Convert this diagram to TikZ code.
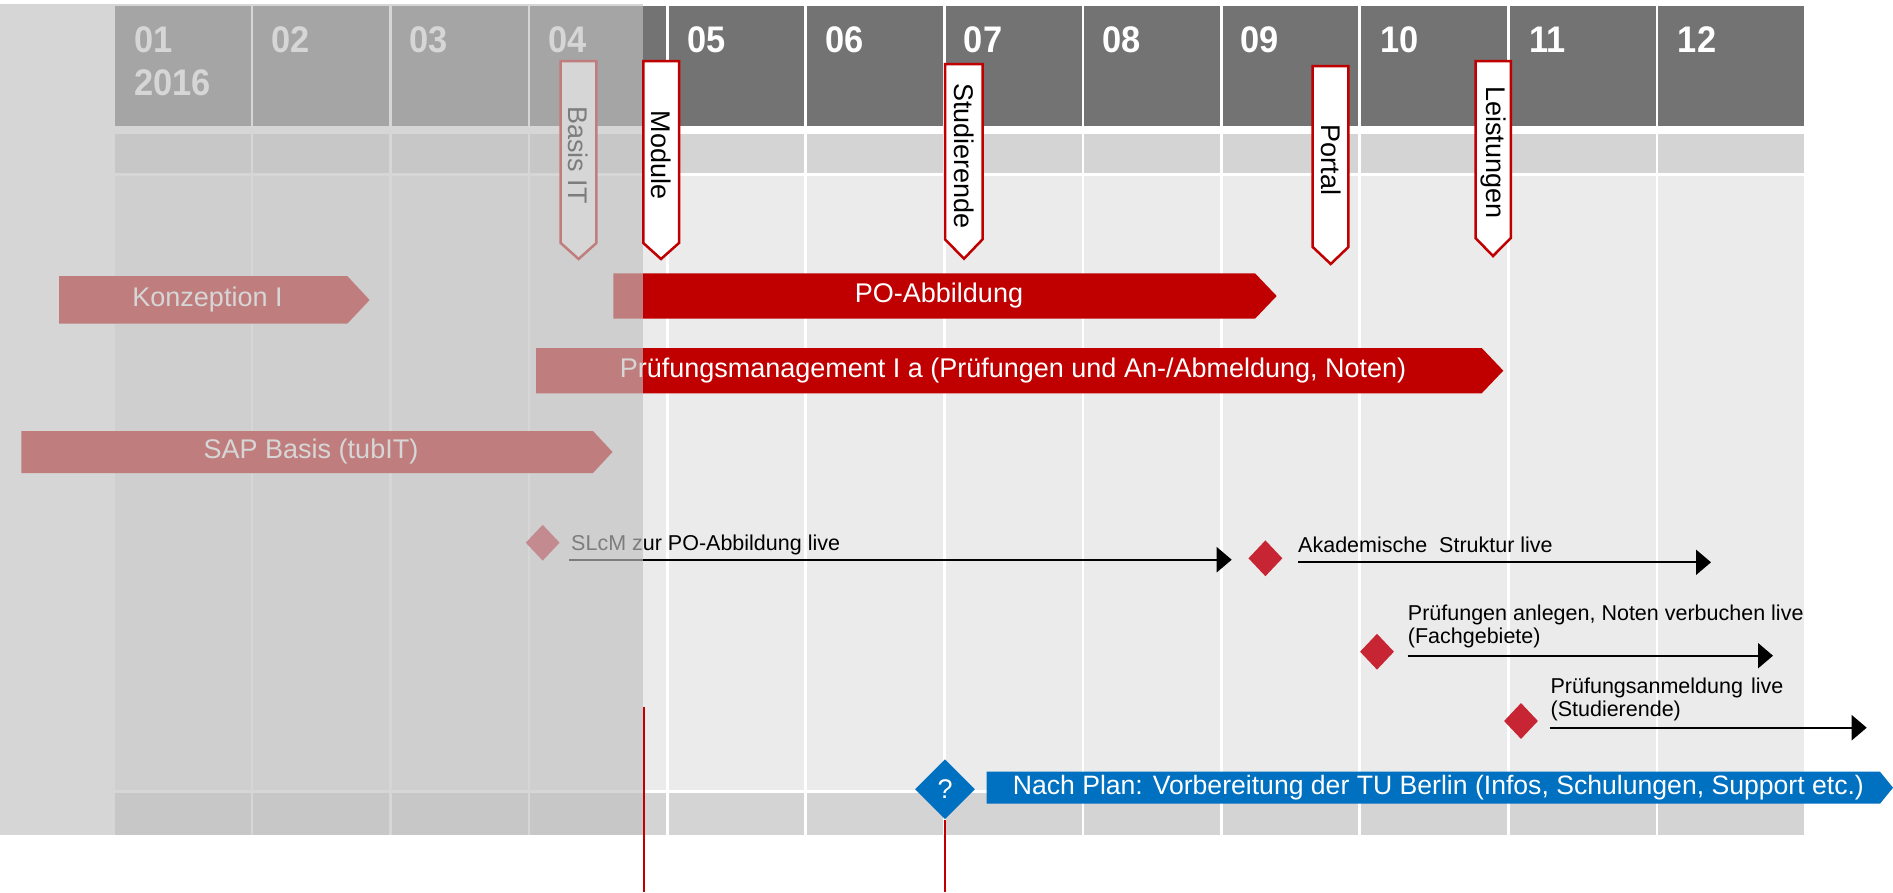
\documentclass[tikz,border=0pt]{standalone}
\usepackage{fontspec}
\setmainfont{Liberation Sans}
\usetikzlibrary{arrows.meta,shapes.geometric}
\definecolor{hdr}{HTML}{737373}
\definecolor{rowmid}{HTML}{D4D4D4}
\definecolor{bodygray}{HTML}{EBEBEB}
\definecolor{tured}{HTML}{C00000}
\definecolor{msred}{RGB}{200,37,52}
\definecolor{tublue}{HTML}{0070C0}
\definecolor{veil}{HTML}{C1C1C1}
\begin{document}
\begin{tikzpicture}[x=1pt,y=-1pt,
  monthlbl/.style={anchor=base west,inner sep=0,text=white,font=\fontsize{37}{40}\selectfont\bfseries,xscale=0.93},
  flagshape/.style={fill=white,draw=tured,line width=2.5,line join=miter},
  flagtext/.style={rotate=-90,inner sep=0,text=black,font=\fontsize{27}{30}\selectfont},
  barshape/.style={fill=tured},
  bartext/.style={inner sep=0,text=white,font=\fontsize{27}{30}\selectfont},
  msdiamond/.style={diamond,fill=msred,inner sep=0,minimum width=34,minimum height=36},
  mstext/.style={anchor=base west,inner sep=0,text=black,font=\fontsize{21.5}{23.3}\selectfont},
  msarrow/.style={draw=black,line width=2.2,-{Triangle[length=15pt,width=25pt]}},
  redline/.style={draw=tured,line width=2}]
\useasboundingbox (0,0) rectangle (1893,892);
\fill[white] (0,0) rectangle (1893,892);
% grid rows
\fill[hdr] (115,6) rectangle (1804.4,126);
\fill[rowmid] (115,134) rectangle (1804.4,173);
\fill[bodygray] (115,176) rectangle (1804.4,790);
\fill[rowmid] (115,793) rectangle (1804.4,835);
\foreach \xs in {252.2,390.6,529,667.3,805.4,944.6,1083,1221.4,1359.4,1508.3,1657.2}
  \draw[white,line width=2.5] (\xs,6) -- (\xs,835);
% month labels
\node[monthlbl] (m01) at (134,52) {01};
\node[monthlbl] (y2016) at (134,95) {2016};
\node[monthlbl] (m02) at (271.5,52) {02};
\node[monthlbl] (m03) at (409.5,52) {03};
\node[monthlbl] (m04) at (548,52) {04};
\node[monthlbl] (m05) at (687,52) {05};
\node[monthlbl] (m06) at (825.4,52) {06};
\node[monthlbl] (m07) at (963.8,52) {07};
\node[monthlbl] (m08) at (1102,52) {08};
\node[monthlbl] (m09) at (1240.6,52) {09};
\node[monthlbl] (m10) at (1380.4,52) {10};
\node[monthlbl] (m11) at (1528.8,52) {11};
\node[monthlbl] (m12) at (1677.7,52) {12};
% flags (under overlay)
\draw[flagshape] (560.7,61) -- (596.4,61) -- (596.4,243) -- (578.6,259) -- (560.7,243) -- cycle;
\node[flagtext] (fBasis) at (578.6,155) {Basis IT};
% bars
\fill[barshape] (59,276) -- (347.3,276) -- (369.6,300) -- (347.3,323.7) -- (59,323.7) -- cycle;
\node[bartext] (bKonz) at (207.5,300) {Konzeption I};
\fill[barshape] (613.4,273.3) -- (1255,273.3) -- (1276.7,296) -- (1255,318.7) -- (613.4,318.7) -- cycle;
\node[bartext] (bPO) at (939,296) {PO-Abbildung};
\fill[barshape] (536,348) -- (1481.7,348) -- (1503.3,370.7) -- (1481.7,393.3) -- (536,393.3) -- cycle;
\node[bartext] (bPM) at (1013,370.7) {Prüfungsmanagement I a (Prüfungen und An-/Abmeldung, Noten)};
\fill[barshape] (21.4,431) -- (593,431) -- (612.5,452) -- (593,473) -- (21.4,473) -- cycle;
\node[bartext] (bSAP) at (311,452) {SAP Basis (tubIT)};
% milestones
\node[msdiamond] (dSLcM) at (542.7,542.7) {};
\node[mstext] (tSLcM) at (571,550.7) {SLcM zur PO-Abbildung live};
\coordinate (aSLcMs) at (569,559.7);
\coordinate (aSLcMe) at (1231.7,559.7);
\draw[msarrow] (aSLcMs) -- (aSLcMe);
\node[msdiamond] (dAkad) at (1265.4,558.3) {};
\node[mstext] (tAkad) at (1298,552) {Akademische\ \ Struktur\ live};
\coordinate (aAkads) at (1298,562.3);
\coordinate (aAkade) at (1711,562.3);
\draw[msarrow] (aAkads) -- (aAkade);
\node[msdiamond] (dPruef) at (1377,651.7) {};
\node[mstext] (tPruefA) at (1407.7,620) {Prüfungen anlegen, Noten verbuchen live};
\node[mstext] (tPruefB) at (1407.7,643.3) {(Fachgebiete)};
\coordinate (aPruefs) at (1407.7,655.7);
\coordinate (aPruefe) at (1773,655.7);
\draw[msarrow] (aPruefs) -- (aPruefe);
\node[msdiamond] (dAnm) at (1521,721) {};
\node[mstext] (tAnmA) at (1550.4,693.3) {Prüfungsanmeldung\hspace{8pt}live};
\node[mstext] (tAnmB) at (1550.4,716.7) {(Studierende)};
\coordinate (aAnms) at (1550.4,727.7);
\coordinate (aAnme) at (1866.7,727.7);
\draw[msarrow] (aAnms) -- (aAnme);
% overlay
\fill[veil,fill opacity=0.65] (0,4) rectangle (643,835);
% flags on top
\draw[flagshape] (643.3,61) -- (679,61) -- (679,243) -- (661,259) -- (643.3,243) -- cycle;
\node[flagtext] (fModule) at (661,155) {Module};
\draw[flagshape] (945,64) -- (982.6,64) -- (982.6,239.3) -- (964,258.7) -- (945,239.3) -- cycle;
\node[flagtext] (fStud) at (964,156) {Studierende};
\draw[flagshape] (1312.7,66) -- (1348.4,66) -- (1348.4,247) -- (1330.7,264) -- (1312.7,247) -- cycle;
\node[flagtext] (fPortal) at (1330.7,160) {Portal};
\draw[flagshape] (1475.5,61) -- (1510.8,61) -- (1510.8,238) -- (1493,256) -- (1475.5,238) -- cycle;
\node[flagtext] (fLeist) at (1493,152.5) {Leistungen};
% blue bar
\fill[tublue] (986.6,771.7) -- (1880,771.7) -- (1893,787.7) -- (1880,803.7) -- (986.6,803.7) -- cycle;
\node[bartext,anchor=west,font=\fontsize{26.6}{30}\selectfont] (bNach) at (1012.6,787.7) {Nach Plan: Vorbereitung der TU Berlin (Infos, Schulungen, Support etc.)};
\node[diamond,fill=tublue,inner sep=0,minimum width=60,minimum height=60,text=white,font=\fontsize{27}{30}\selectfont] (qd) at (945,789.3) {?};
% red vertical lines
\coordinate (lModTop) at (644,706.7);
\coordinate (lModBot) at (644,892);
\draw[redline] (lModTop) -- (lModBot);
\coordinate (lQBot) at (945,892);
\draw[redline] (qd.south) -- (lQBot);
\end{tikzpicture}
\end{document}
